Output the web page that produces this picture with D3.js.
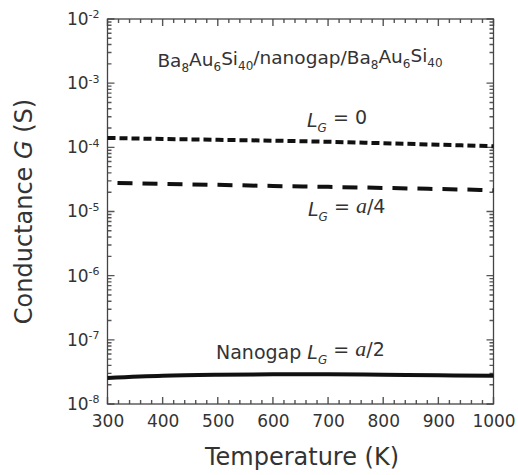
<!DOCTYPE html>
<html>
<head>
<meta charset="utf-8">
<script src="https://cdn.jsdelivr.net/npm/d3@7"></script>
<style>
  body { margin: 0; background: #fff; }
  text { font-family: "DejaVu Sans", sans-serif; fill: #333; }
</style>
</head>
<body>
<svg width="518" height="475"></svg>
<script>
// temperature points (K)
const temps = [300, 400, 500, 600, 700, 800, 900, 1000]
// conductance (S) for each gap length
const gZero = [1.40e-4, 1.35e-4, 1.31e-4, 1.27e-4, 1.22e-4, 1.16e-4, 1.10e-4, 1.04e-4]
const gQuarter = [2.80e-5, 2.70e-5, 2.60e-5, 2.50e-5, 2.42e-5, 2.33e-5, 2.24e-5, 2.15e-5]
const gHalf = [2.55e-8, 2.75e-8, 2.85e-8, 2.90e-8, 2.90e-8, 2.85e-8, 2.80e-8, 2.75e-8]
// tick labels
const xTicks = [300, 400, 500, 600, 700, 800, 900, 1000]
const yExp = [-8, -7, -6, -5, -4, -3, -2]

const svg = d3.select("svg")
const margin = { top: 19, right: 24.5, bottom: 71, left: 107.5 }
const width = +svg.attr("width") - margin.left - margin.right
const height = +svg.attr("height") - margin.top - margin.bottom
const g = svg.append("g").attr("transform", `translate(${margin.left},${margin.top})`)

const x = d3.scaleLinear().domain([300, 1000]).range([0, width])
const y = d3.scaleLog().domain([1e-8, 1e-2]).range([height, 0])

const minorX = d3.range(300, 1001, 20).filter((v) => v % 100 !== 0)
const majorY = yExp.map((e) => Math.pow(10, e))
const minorY = y.ticks().filter((v) => !majorY.some((m) => Math.abs(v / m - 1) < 1e-6))

// tick marks on all four sides, pointing inward
const tp = d3.path()
function xMarks(vals, len) {
  vals.forEach((v) => {
    const px = x(v)
    tp.moveTo(px, height); tp.lineTo(px, height - len)
    tp.moveTo(px, 0); tp.lineTo(px, len)
  })
}
function yMarks(vals, len) {
  vals.forEach((v) => {
    const py = y(v)
    tp.moveTo(0, py); tp.lineTo(len, py)
    tp.moveTo(width, py); tp.lineTo(width - len, py)
  })
}
xMarks(xTicks, 7)
xMarks(minorX, 4)
yMarks(majorY, 7)
yMarks(minorY, 4)
g.append("path").attr("d", tp.toString()).attr("fill", "none")
  .attr("stroke", "#555").attr("stroke-width", 1.4)

// tick labels via d3 axes (tick lines hidden)
const xa = g.append("g").attr("transform", `translate(0,${height})`)
  .call(d3.axisBottom(x).tickValues(xTicks).tickFormat(d3.format("d")).tickSize(0).tickPadding(11))
xa.select(".domain").remove()
xa.selectAll("text").attr("font-family", null).attr("font-size", 17).attr("fill", "#333")

const ya = g.append("g")
  .call(d3.axisLeft(y).tickValues(majorY).tickSize(0).tickPadding(8).tickFormat(""))
ya.select(".domain").remove()
ya.selectAll(".tick text")
  .attr("font-family", null)
  .attr("font-size", 17)
  .attr("fill", "#333")
  .each(function (d) {
    const t = d3.select(this)
    t.text("10")
    t.append("tspan").attr("font-size", 11).attr("dy", "-0.6em").text(Math.round(Math.log10(d)))
  })

// frame
g.append("rect")
  .attr("width", width).attr("height", height)
  .attr("fill", "none")
  .attr("stroke", "#444")
  .attr("stroke-width", 1.3)

// curves
const line = d3
  .line()
  .x((d, i) => x(temps[i]))
  .y((d) => y(d))
  .curve(d3.curveMonotoneX)

g.append("path").datum(gZero).attr("d", line)
  .attr("fill", "none").attr("stroke", "#111").attr("stroke-width", 4)
  .attr("stroke-dasharray", "8,4")
g.append("path").datum(gQuarter).attr("d", line)
  .attr("fill", "none").attr("stroke", "#111").attr("stroke-width", 4)
  .attr("stroke-dasharray", "15,10").attr("stroke-dashoffset", 15)
g.append("path").datum(gHalf).attr("d", line)
  .attr("fill", "none").attr("stroke", "#111").attr("stroke-width", 4)

// annotations
const title = g.append("text").attr("x", 300 - margin.left).attr("y", 67 - margin.top)
  .attr("text-anchor", "middle").attr("font-size", 18.5)
function formula(t, first) {
  ;[["Ba", "8"], ["Au", "6"], ["Si", "40"]].forEach(([el, n], i) => {
    t.append("tspan").attr("dy", first && i === 0 ? null : "-0.35em").text(el)
    t.append("tspan").attr("font-size", 12).attr("dy", "0.45em").text(n)
  })
}
formula(title, true)
title.append("tspan").attr("dy", "-0.35em").text("/nanogap/")
formula(title, true)

function lgLabel(px, py, prefix, val, serifA) {
  const t = g.append("text").attr("x", px - margin.left).attr("y", py - margin.top).attr("font-size", 19)
  if (prefix) t.append("tspan").text(prefix)
  t.append("tspan").attr("font-style", "italic").text("L")
  t.append("tspan").attr("font-size", 12).attr("font-style", "italic").attr("dy", "0.4em").text("G")
  t.append("tspan").attr("dy", "-0.4em").text(" = ")
  if (serifA) {
    t.append("tspan").attr("font-style", "italic").attr("font-family", "Liberation Serif").attr("font-size", 22).text("a")
    t.append("tspan").text("/" + val)
  } else {
    t.append("tspan").text(val)
  }
}
lgLabel(307, 127, null, "0", false)
lgLabel(308, 216, null, "4", true)
lgLabel(216, 359, "Nanogap ", "2", true)

// axis titles
svg.append("text").attr("x", 302).attr("y", 465).attr("text-anchor", "middle")
  .attr("font-size", 24).text("Temperature (K)")
const yl = svg.append("text")
  .attr("transform", `translate(32,${margin.top + height / 2}) rotate(-90)`)
  .attr("text-anchor", "middle").attr("font-size", 24)
yl.append("tspan").text("Conductance ")
yl.append("tspan").attr("font-style", "italic").text("G")
yl.append("tspan").text(" (S)")
</script>
</body>
</html>
